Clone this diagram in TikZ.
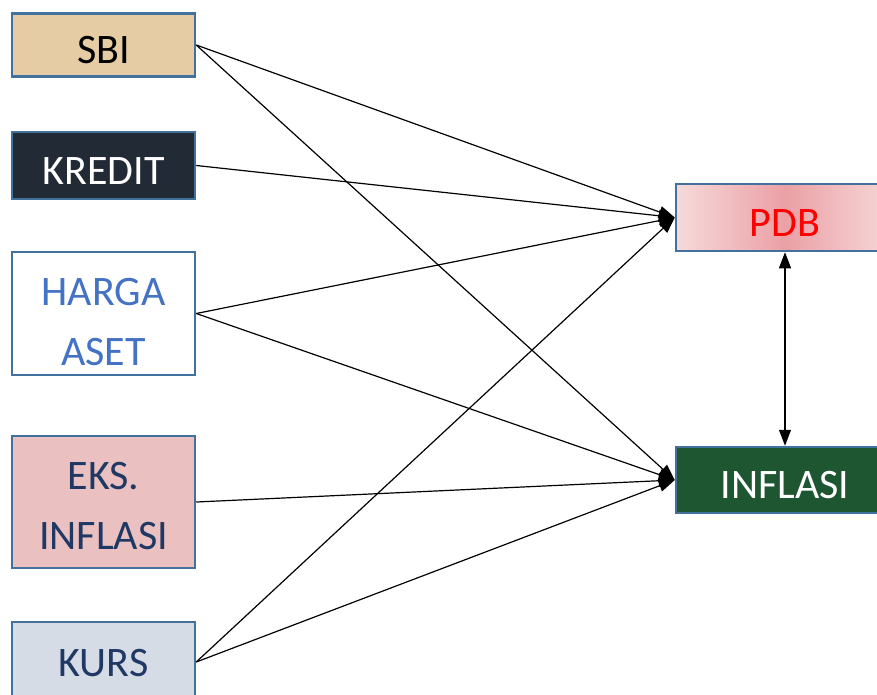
\documentclass[tikz,border=0pt]{standalone}
\usepackage{fontspec}
\setmainfont{Carlito}
\usetikzlibrary{positioning}
\usetikzlibrary{arrows.meta}
\definecolor{boxline}{RGB}{65,113,156}
\definecolor{sbifill}{RGB}{230,204,164}
\definecolor{kreditfill}{RGB}{34,42,53}
\definecolor{ekstfill}{RGB}{234,192,192}
\definecolor{kursfill}{RGB}{214,220,229}
\definecolor{inflfill}{RGB}{30,86,50}
\definecolor{hargatext}{RGB}{68,114,196}
\definecolor{navytext}{RGB}{31,56,100}
\definecolor{pdbin}{RGB}{234,160,166}
\definecolor{pdbout}{RGB}{247,218,218}
\tikzset{
	box/.style={draw=boxline,line width=2.5pt,minimum width=183pt,align=center,inner sep=0pt,text height=37pt,font=\fontsize{42}{60}\selectfont},
	arrow/.style={-{Triangle[length=16pt,width=12pt]},line width=1.2pt},
}

\begin{document}
\begin{tikzpicture}[x=1pt,y=-1pt]
	\useasboundingbox (0,0) rectangle (877,695);
	\clip (0,0) rectangle (877,695);

	% left boxes.....................
	\node [box,fill=sbifill,minimum height=63pt] (sbi) at (103.5,45) {SBI};
	\node [box,fill=kreditfill,text=white,minimum height=67pt] (kredit) at (103.5,165.5) {KREDIT};
	\node [box,fill=white,text=hargatext,minimum height=123pt,text height=104pt] (harga) at (103.5,313.5) {HARGA\\ASET};
	\node [box,fill=ekstfill,text=navytext,minimum height=132pt,text height=95pt] (eks) at (103.5,502) {EKS.\\INFLASI};
	\node [box,fill=kursfill,text=navytext,minimum height=80pt,text height=30pt] (kurs) at (103.5,662) {KURS};

	% right boxes.....................
	\node [box,left color=pdbout,right color=pdbout,middle color=pdbin,text=red,minimum width=218pt,minimum height=67pt] (pdb) at (785,217.5) {PDB};
	\node [box,fill=inflfill,text=white,minimum width=218pt,minimum height=66pt] (inflasi) at (785,480) {INFLASI};

	% arrows to PDB...................
	\draw [arrow] (sbi.east) -- (pdb.west);
	\draw [arrow] (kredit.east) -- (pdb.west);
	\draw [arrow] (harga.east) -- (pdb.west);
	\draw [arrow] (kurs.east) -- (pdb.west);

	% arrows to INFLASI...............
	\draw [arrow] (sbi.east) -- (inflasi.west);
	\draw [arrow] (harga.east) -- (inflasi.west);
	\draw [arrow] (eks.east) -- (inflasi.west);
	\draw [arrow] (kurs.east) -- (inflasi.west);

	% PDB <-> INFLASI.................
	\draw [arrow,{Triangle[length=16pt,width=12pt]}-{Triangle[length=16pt,width=12pt]}] (pdb.south) -- (inflasi.north);
\end{tikzpicture}
\end{document}
